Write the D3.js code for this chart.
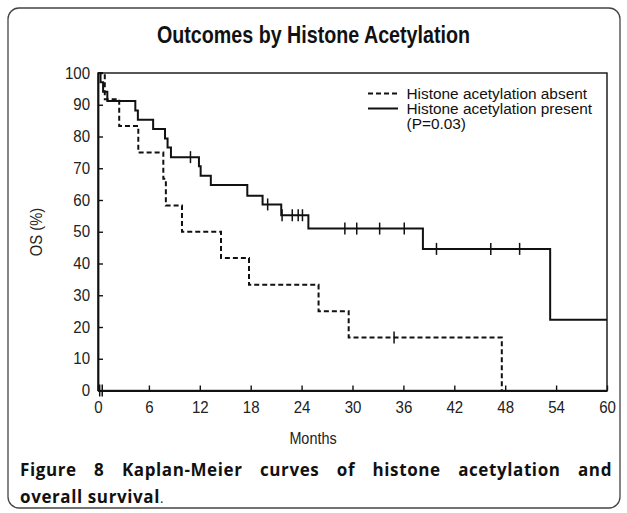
<!DOCTYPE html>
<html>
<head>
<meta charset="utf-8">
<script src="https://cdn.jsdelivr.net/npm/d3@7/dist/d3.min.js"></script>
<style>
  html, body { margin: 0; padding: 0; background: #fff; }
  svg { display: block; }
</style>
</head>
<body>
<svg id="chart" width="627" height="513"></svg>
<script>
// ---- data ----
const title = "Outcomes by Histone Acetylation";
const xTicks = [0, 6, 12, 18, 24, 30, 36, 42, 48, 54, 60];
const yTicks = [0, 10, 20, 30, 40, 50, 60, 70, 80, 90, 100];

// Histone acetylation present (solid)
const presentTimes = [0, 0.3, 0.6, 1.1, 4.4, 4.7, 6.5, 7.9, 8.2, 8.6, 11.9, 12.1, 13.3, 17.6, 19.4, 21.6, 24.8, 38.3, 53.3];
const presentSurv  = [100, 97.1, 94.1, 91.2, 88.2, 85.3, 82.4, 79.4, 76.5, 73.5, 70.6, 67.6, 64.7, 61.3, 58.6, 55.2, 51.0, 44.6, 22.3];
const presentEnd = 60;
const presentCensor = [10.9, 20.0, 21.7, 22.9, 23.6, 24.1, 29.1, 30.5, 33.2, 36.1, 39.9, 46.3, 49.7];

// Histone acetylation absent (dashed)
const absentTimes = [0, 0.8, 2.5, 4.75, 7.7, 8.0, 9.9, 14.5, 17.8, 26.0, 29.55, 47.6];
const absentSurv  = [100, 91.7, 83.3, 75.0, 66.7, 58.3, 50.0, 41.7, 33.3, 25.0, 16.7, 0];
const absentEnd = 47.6;
const absentCensor = [34.9];

// marks near the origin on the time axis
const originMarks = [0.2, 0.5];

const legendLabels = ["Histone acetylation absent", "Histone acetylation present", "(P=0.03)"];
const xLabel = "Months";
const yLabel = "OS (%)";
const captionLine1 = ["Figure", "8", "Kaplan-Meier", "curves", "of", "histone", "acetylation", "and"];
const captionLine2 = "overall survival";

// ---- drawing ----
const svg = d3.select("#chart");
const tickFont = "'Liberation Sans', Arial, sans-serif";
const capFont = "'Open Sans', 'Noto Sans', sans-serif";

function condense(sel, factor) {
  sel.each(function () {
    const w = this.getComputedTextLength();
    d3.select(this).attr("textLength", w * factor).attr("lengthAdjust", "spacingAndGlyphs");
  });
}

svg.append("rect")
  .attr("x", 8).attr("y", 8).attr("width", 612).attr("height", 500)
  .attr("rx", 11).attr("ry", 11)
  .attr("fill", "none").attr("stroke", "#444").attr("stroke-width", 1.3);

const titleText = svg.append("text")
  .attr("x", 313.5).attr("y", 43)
  .attr("text-anchor", "middle")
  .attr("font-family", tickFont).attr("font-weight", "bold").attr("font-size", 23)
  .attr("fill", "#111")
  .text(title);
titleText.attr("textLength", 313).attr("lengthAdjust", "spacingAndGlyphs");

const pL = 98, pR = 607, pT = 73, pB = 390.5;
const x = d3.scaleLinear().domain([0, 60]).range([pL, pR]);
const y = d3.scaleLinear().domain([0, 100]).range([pB, pT]);

// frame
svg.append("rect")
  .attr("x", pL).attr("y", pT).attr("width", pR - pL).attr("height", pB - pT)
  .attr("fill", "none").attr("stroke", "#111").attr("stroke-width", 1.4);

const xAxis = d3.axisBottom(x).tickValues(xTicks).tickSizeInner(-5).tickSizeOuter(0).tickPadding(11);
const yAxis = d3.axisLeft(y).tickValues(yTicks).tickSizeInner(-5).tickSizeOuter(0).tickPadding(8);

const gx = svg.append("g").attr("transform", `translate(0,${pB})`).call(xAxis);
const gy = svg.append("g").attr("transform", `translate(${pL},0)`).call(yAxis);
[gx, gy].forEach(g => {
  g.select(".domain").attr("stroke", "#111").attr("stroke-width", 1.8);
  g.selectAll(".tick line").attr("stroke", "#111").attr("stroke-width", 1.4);
  g.selectAll(".tick text").attr("font-family", tickFont).attr("font-size", 16).attr("fill", "#222");
  condense(g.selectAll(".tick text"), 0.94);
});

// curves
function stepPoints(times, surv, end) {
  const pts = times.map((t, i) => [t, surv[i]]);
  if (end > times[times.length - 1]) pts.push([end, surv[surv.length - 1]]);
  return pts;
}
function survAt(times, surv, t) {
  let v = surv[0];
  for (let i = 0; i < times.length; i++) if (times[i] <= t) v = surv[i];
  return v;
}
const line = d3.line().x(d => x(d[0])).y(d => y(d[1])).curve(d3.curveStepAfter);

svg.append("path")
  .datum(stepPoints(absentTimes, absentSurv, absentEnd))
  .attr("d", line).attr("fill", "none").attr("stroke", "#111")
  .attr("stroke-width", 2).attr("stroke-dasharray", "5,3");

svg.append("path")
  .datum(stepPoints(presentTimes, presentSurv, presentEnd))
  .attr("d", line).attr("fill", "none").attr("stroke", "#111")
  .attr("stroke-width", 2);

function censor(times, surv, list) {
  svg.append("g").selectAll("line").data(list).join("line")
    .attr("x1", d => x(d)).attr("x2", d => x(d))
    .attr("y1", d => y(survAt(times, surv, d)) - 6)
    .attr("y2", d => y(survAt(times, surv, d)) + 6)
    .attr("stroke", "#111").attr("stroke-width", 1.5);
}
censor(presentTimes, presentSurv, presentCensor);
censor(absentTimes, absentSurv, absentCensor);

svg.append("g").selectAll("line").data(originMarks).join("line")
  .attr("x1", d => x(d)).attr("x2", d => x(d))
  .attr("y1", y(0) - 6).attr("y2", y(0) + 6)
  .attr("stroke", "#111").attr("stroke-width", 1.5);

// legend
const lg = svg.append("g");
const legY = [98.5, 113.5, 128.5];
lg.append("line").attr("x1", 368).attr("x2", 398).attr("y1", legY[0] - 5).attr("y2", legY[0] - 5)
  .attr("stroke", "#111").attr("stroke-width", 2).attr("stroke-dasharray", "5,3");
lg.append("line").attr("x1", 368).attr("x2", 398).attr("y1", legY[1] - 5).attr("y2", legY[1] - 5)
  .attr("stroke", "#111").attr("stroke-width", 2);
lg.selectAll("text").data(legendLabels).join("text")
  .attr("x", 406.5).attr("y", (d, i) => legY[i])
  .attr("font-family", tickFont).attr("font-size", 15.4).attr("fill", "#111")
  .text(d => d);

// axis titles
const xl = svg.append("text")
  .attr("x", 313).attr("y", 444).attr("text-anchor", "middle")
  .attr("font-family", tickFont).attr("font-size", 16).attr("fill", "#222")
  .text(xLabel);
condense(xl, 0.9);
const yl = svg.append("text")
  .attr("transform", "translate(42,232) rotate(-90)").attr("text-anchor", "middle")
  .attr("font-family", tickFont).attr("font-size", 16).attr("fill", "#222")
  .text(yLabel);
condense(yl, 0.92);

// caption, line 1 justified
const capSize = 17;
const capLeft = 20, capRight = 612, cap1Y = 476, cap2Y = 503;
const wNodes = captionLine1.map(w => svg.append("text")
  .attr("y", cap1Y).attr("font-family", capFont).attr("font-size", capSize)
  .attr("font-weight", 700).attr("letter-spacing", 0.6).attr("fill", "#111").text(w));
const widths = wNodes.map(n => n.node().getComputedTextLength());
const totalW = d3.sum(widths);
const gap = (capRight - capLeft - totalW) / (captionLine1.length - 1);
let cx = capLeft;
wNodes.forEach((n, i) => { n.attr("x", cx); cx += widths[i] + gap; });

const t2 = svg.append("text").attr("x", capLeft).attr("y", cap2Y)
  .attr("font-family", capFont).attr("font-size", capSize).attr("fill", "#111").attr("letter-spacing", 0.6);
t2.append("tspan").attr("font-weight", 700).text(captionLine2);
t2.append("tspan").attr("font-weight", 400).attr("font-size", 13).text(".");
</script>
</body>
</html>
